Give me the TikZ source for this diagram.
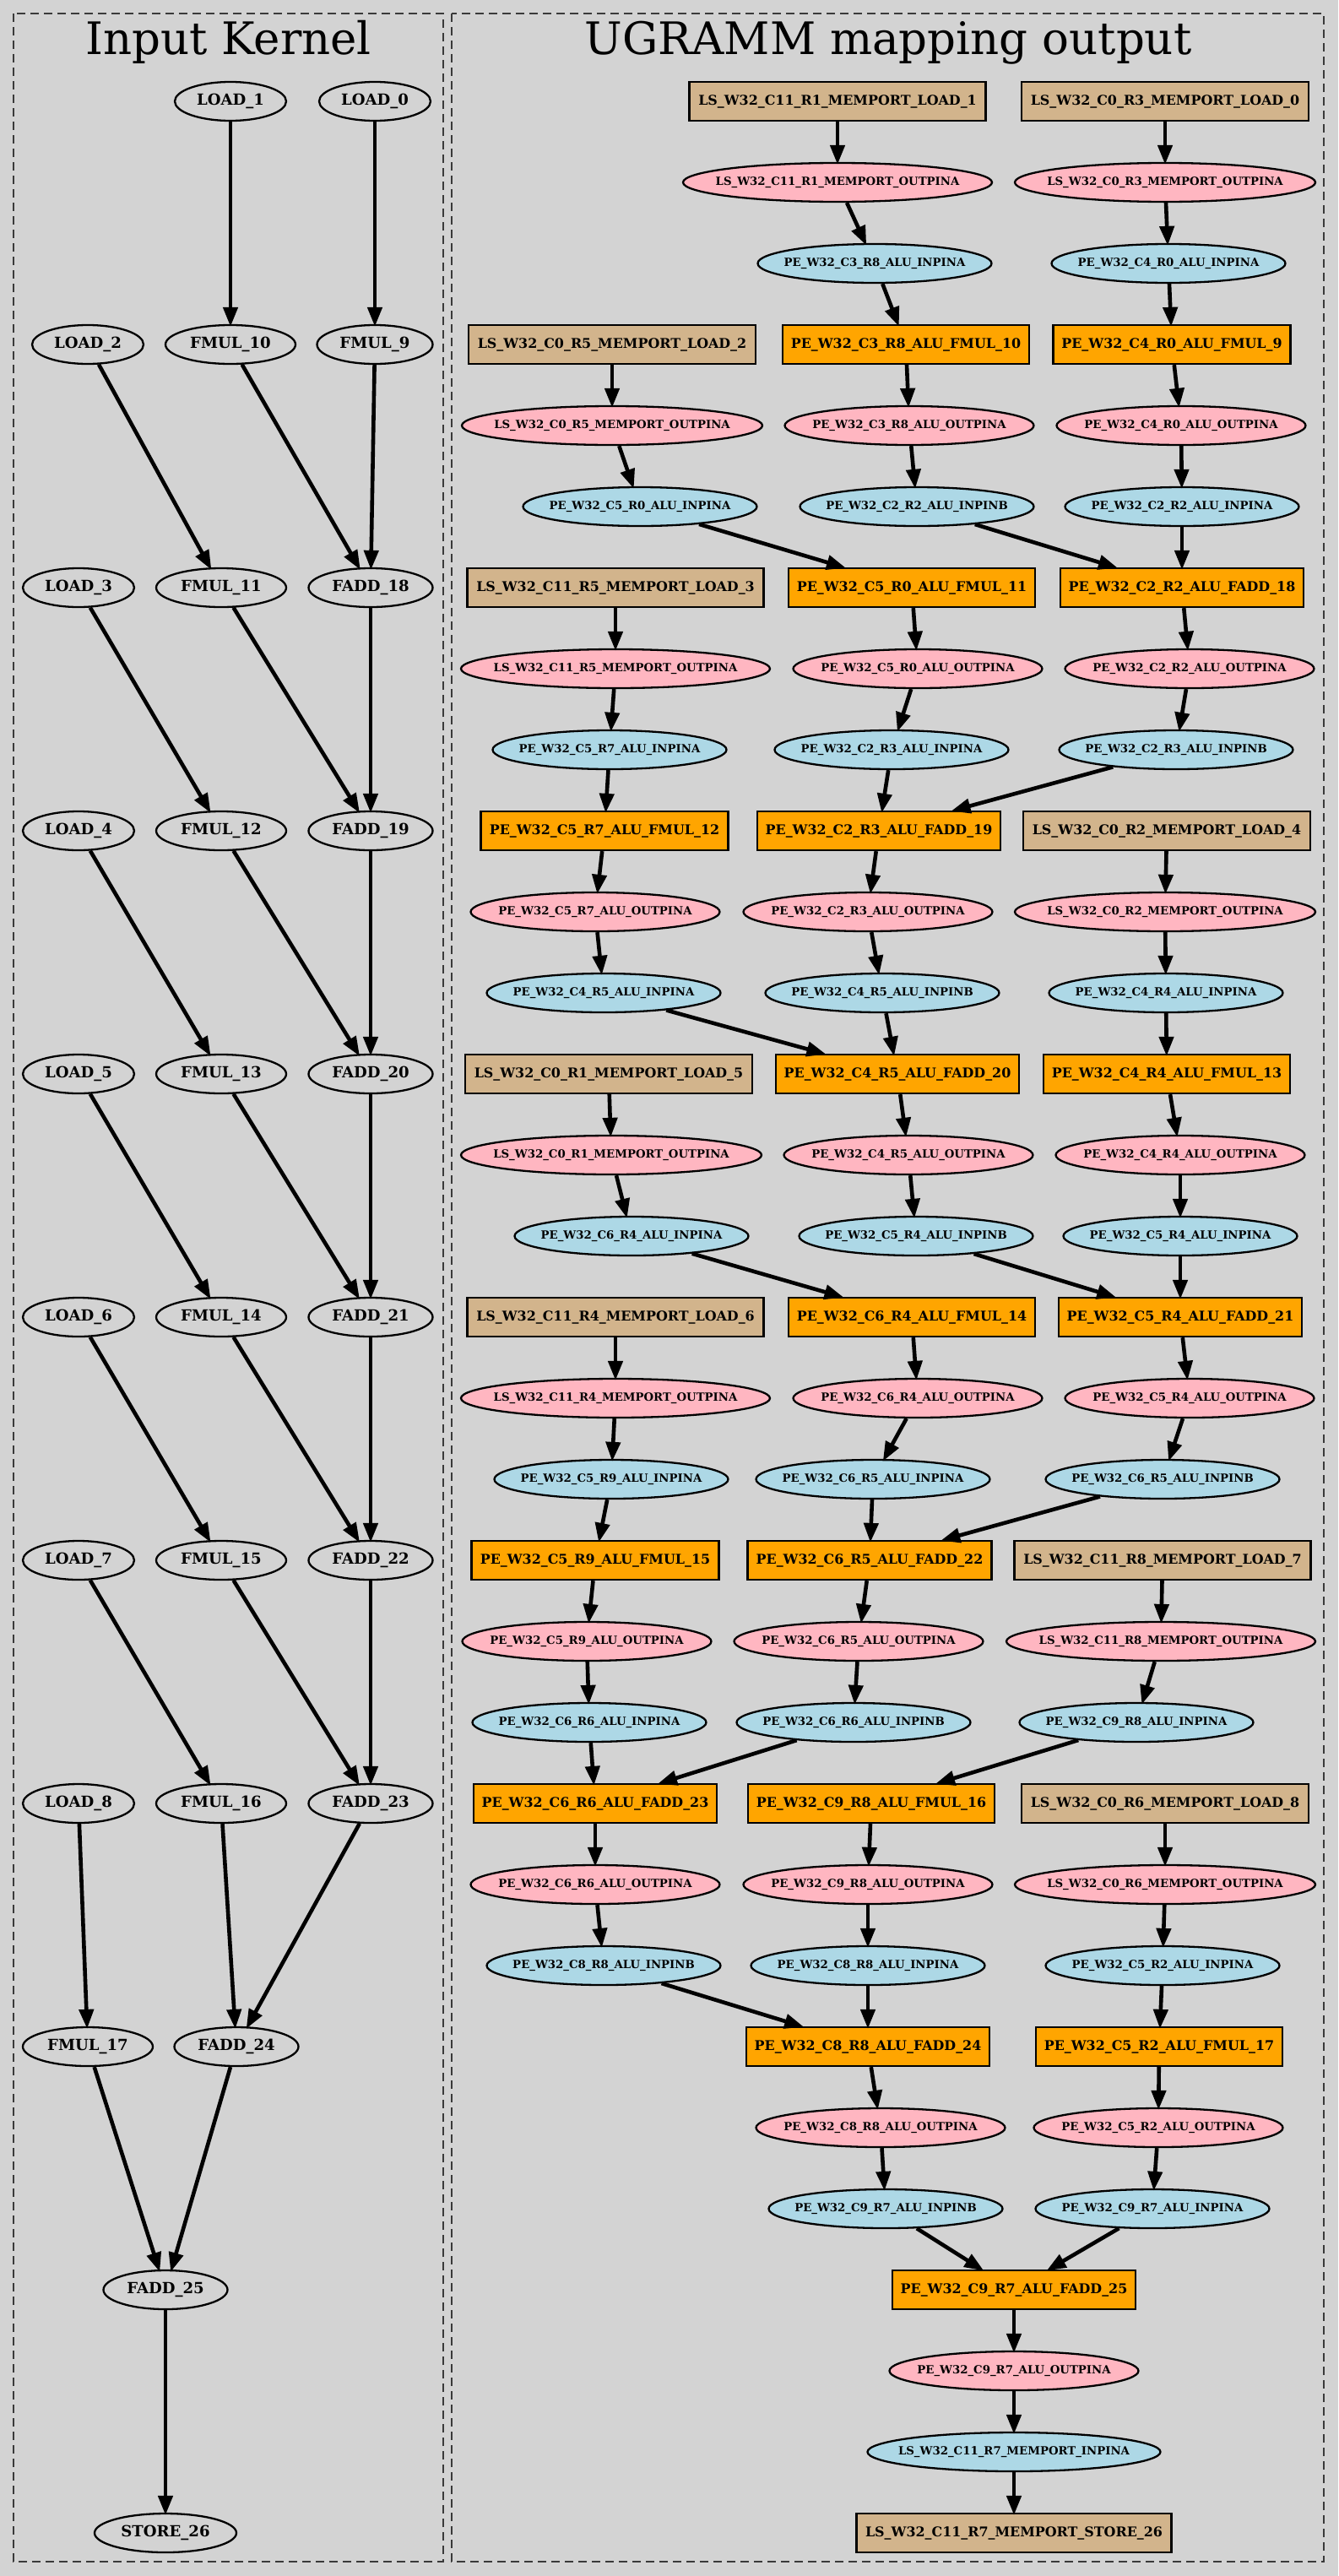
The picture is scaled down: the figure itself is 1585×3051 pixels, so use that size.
\documentclass[tikz,border=0pt]{standalone}
\usepackage{fontspec}
\setmainfont{DejaVu Serif}
\usetikzlibrary{arrows.meta,shapes.geometric}
\definecolor{bgc}{HTML}{D3D3D3}
\definecolor{tanc}{HTML}{D2B48C}
\definecolor{orc}{HTML}{FFA500}
\definecolor{pinkc}{HTML}{FFB6C1}
\definecolor{bluec}{HTML}{ADD8E6}
\definecolor{clc}{HTML}{3A3A3A}
\newcommand\zw[1]{\makebox[0pt]{#1}}
\begin{document}
\begin{tikzpicture}[x=1pt,y=-1pt,
  base/.style={draw=black, line width=2.3pt, inner sep=0pt, minimum height=46pt},
  kn/.style={base, ellipse, fill=bgc, minimum width=#1, font=\bfseries\fontsize{18.1}{20}\selectfont},
  tanbox/.style={base, rectangle, fill=tanc, minimum width=#1, font=\bfseries\fontsize{15.9}{18}\selectfont},
  orbox/.style={base, rectangle, fill=orc, minimum width=#1, font=\bfseries\fontsize{15.9}{18}\selectfont},
  pinkel/.style={base, ellipse, fill=pinkc, minimum width=#1, font=\bfseries\fontsize{13.3}{15}\selectfont},
  blueel/.style={base, ellipse, fill=bluec, minimum width=#1, font=\bfseries\fontsize{13.3}{15}\selectfont},
  edge/.style={draw=black, line width=4.6pt, shorten >=-3pt, -{Triangle[length=23pt 0, width=17pt 0]}},
  cluster/.style={draw=clc, line width=1.2pt, dash pattern=on 10pt off 6pt},
  ttl/.style={font=\fontsize{53}{60}\selectfont, anchor=base, inner sep=0pt}
]
\useasboundingbox (0,0) rectangle (1585,3051);
\fill[bgc] (0,0) rectangle (1585,3051);
\draw[cluster] (16,16) rectangle (525,3034);
\draw[cluster] (535,16) rectangle (1568,3034);
\node[ttl] (t1) at (270.5,65) {Input Kernel};
\node[ttl] (t2) at (1052,65) {UGRAMM mapping output};

% ---------------- Input kernel ----------------
\node[kn=132] (kl1) at (273,120) {\zw{LOAD\_1}};
\node[kn=132] (kl0) at (444,120) {\zw{LOAD\_0}};
\node[kn=132] (kl2) at (104,408) {\zw{LOAD\_2}};
\node[kn=154] (km10) at (273,408) {\zw{FMUL\_10}};
\node[kn=137] (km9) at (444,408) {\zw{FMUL\_9}};
\foreach \i/\m/\a/\y in {3/11/18/696,4/12/19/984,5/13/20/1272,6/14/21/1560,7/15/22/1848,8/16/23/2136}{
  \node[kn=132] (kl\i) at (93,\y) {\zw{LOAD\_\i}};
  \node[kn=154] (km\m) at (262,\y) {\zw{FMUL\_\m}};
  \node[kn=147] (ka\a) at (439,\y) {\zw{FADD\_\a}};
}
\node[kn=154] (km17) at (104,2424) {\zw{FMUL\_17}};
\node[kn=147] (ka24) at (280,2424) {\zw{FADD\_24}};
\node[kn=147] (ka25) at (196,2712) {\zw{FADD\_25}};
\node[kn=168] (ks26) at (196,3000) {\zw{STORE\_26}};

\draw[edge] (kl1) -- (km10);
\draw[edge] (kl0) -- (km9);
\draw[edge] (kl2) -- (km11);
\draw[edge] (km10) -- (ka18);
\draw[edge] (km9) -- (ka18);
\foreach \l/\m/\n/\a/\b in {3/12/11/18/19,4/13/12/19/20,5/14/13/20/21,6/15/14/21/22,7/16/15/22/23}{
  \draw[edge] (kl\l) -- (km\m);
  \draw[edge] (km\n) -- (ka\b);
  \draw[edge] (ka\a) -- (ka\b);
}
\draw[edge] (kl8) -- (km17);
\draw[edge] (km16) -- (ka24);
\draw[edge] (ka23) -- (ka24);
\draw[edge] (km17) -- (ka25);
\draw[edge] (ka24) -- (ka25);
\draw[edge] (ka25) -- (ks26);

% ---------------- UGRAMM mapping ----------------
\node[tanbox=351] (r0b) at (992,120) {\zw{LS\_W32\_C11\_R1\_MEMPORT\_LOAD\_1}};
\node[tanbox=340] (r0c) at (1380,120) {\zw{LS\_W32\_C0\_R3\_MEMPORT\_LOAD\_0}};
\node[pinkel=366] (r1b) at (992,216) {\zw{LS\_W32\_C11\_R1\_MEMPORT\_OUTPINA}};
\node[pinkel=356] (r1c) at (1380,216) {\zw{LS\_W32\_C0\_R3\_MEMPORT\_OUTPINA}};
\node[blueel=277] (r2b) at (1036,312) {\zw{PE\_W32\_C3\_R8\_ALU\_INPINA}};
\node[blueel=277] (r2c) at (1384,312) {\zw{PE\_W32\_C4\_R0\_ALU\_INPINA}};

\node[tanbox=340] (r3a) at (725,408) {\zw{LS\_W32\_C0\_R5\_MEMPORT\_LOAD\_2}};
\node[orbox=292] (r3b) at (1073,408) {\zw{PE\_W32\_C3\_R8\_ALU\_FMUL\_10}};
\node[orbox=281] (r3c) at (1388,408) {\zw{PE\_W32\_C4\_R0\_ALU\_FMUL\_9}};
\node[pinkel=356] (r4a) at (725,504) {\zw{LS\_W32\_C0\_R5\_MEMPORT\_OUTPINA}};
\node[pinkel=295] (r4b) at (1077,504) {\zw{PE\_W32\_C3\_R8\_ALU\_OUTPINA}};
\node[pinkel=295] (r4c) at (1399,504) {\zw{PE\_W32\_C4\_R0\_ALU\_OUTPINA}};
\node[blueel=277] (r5a) at (758,600) {\zw{PE\_W32\_C5\_R0\_ALU\_INPINA}};
\node[blueel=277] (r5b) at (1086,600) {\zw{PE\_W32\_C2\_R2\_ALU\_INPINB}};
\node[blueel=277] (r5c) at (1400,600) {\zw{PE\_W32\_C2\_R2\_ALU\_INPINA}};

\node[tanbox=351] (r6a) at (729,696) {\zw{LS\_W32\_C11\_R5\_MEMPORT\_LOAD\_3}};
\node[orbox=292] (r6b) at (1080,696) {\zw{PE\_W32\_C5\_R0\_ALU\_FMUL\_11}};
\node[orbox=288] (r6c) at (1400,696) {\zw{PE\_W32\_C2\_R2\_ALU\_FADD\_18}};
\node[pinkel=366] (r7a) at (729,792) {\zw{LS\_W32\_C11\_R5\_MEMPORT\_OUTPINA}};
\node[pinkel=295] (r7b) at (1087,792) {\zw{PE\_W32\_C5\_R0\_ALU\_OUTPINA}};
\node[pinkel=295] (r7c) at (1409,792) {\zw{PE\_W32\_C2\_R2\_ALU\_OUTPINA}};
\node[blueel=277] (r8a) at (722,888) {\zw{PE\_W32\_C5\_R7\_ALU\_INPINA}};
\node[blueel=277] (r8b) at (1056,888) {\zw{PE\_W32\_C2\_R3\_ALU\_INPINA}};
\node[blueel=277] (r8c) at (1393,888) {\zw{PE\_W32\_C2\_R3\_ALU\_INPINB}};

\node[orbox=293] (r9a) at (716,984) {\zw{PE\_W32\_C5\_R7\_ALU\_FMUL\_12}};
\node[orbox=288] (r9b) at (1041,984) {\zw{PE\_W32\_C2\_R3\_ALU\_FADD\_19}};
\node[tanbox=340] (r9c) at (1382,984) {\zw{LS\_W32\_C0\_R2\_MEMPORT\_LOAD\_4}};
\node[pinkel=295] (r10a) at (705,1080) {\zw{PE\_W32\_C5\_R7\_ALU\_OUTPINA}};
\node[pinkel=295] (r10b) at (1028,1080) {\zw{PE\_W32\_C2\_R3\_ALU\_OUTPINA}};
\node[pinkel=356] (r10c) at (1380,1080) {\zw{LS\_W32\_C0\_R2\_MEMPORT\_OUTPINA}};
\node[blueel=277] (r11a) at (715,1176) {\zw{PE\_W32\_C4\_R5\_ALU\_INPINA}};
\node[blueel=277] (r11b) at (1045,1176) {\zw{PE\_W32\_C4\_R5\_ALU\_INPINB}};
\node[blueel=277] (r11c) at (1381,1176) {\zw{PE\_W32\_C4\_R4\_ALU\_INPINA}};

\node[tanbox=340] (r12a) at (721,1272) {\zw{LS\_W32\_C0\_R1\_MEMPORT\_LOAD\_5}};
\node[orbox=288] (r12b) at (1063,1272) {\zw{PE\_W32\_C4\_R5\_ALU\_FADD\_20}};
\node[orbox=292] (r12c) at (1382,1272) {\zw{PE\_W32\_C4\_R4\_ALU\_FMUL\_13}};
\node[pinkel=356] (r13a) at (724,1368) {\zw{LS\_W32\_C0\_R1\_MEMPORT\_OUTPINA}};
\node[pinkel=295] (r13b) at (1076,1368) {\zw{PE\_W32\_C4\_R5\_ALU\_OUTPINA}};
\node[pinkel=295] (r13c) at (1398,1368) {\zw{PE\_W32\_C4\_R4\_ALU\_OUTPINA}};
\node[blueel=277] (r14a) at (748,1464) {\zw{PE\_W32\_C6\_R4\_ALU\_INPINA}};
\node[blueel=277] (r14b) at (1085,1464) {\zw{PE\_W32\_C5\_R4\_ALU\_INPINB}};
\node[blueel=277] (r14c) at (1398,1464) {\zw{PE\_W32\_C5\_R4\_ALU\_INPINA}};

\node[tanbox=351] (r15a) at (729,1560) {\zw{LS\_W32\_C11\_R4\_MEMPORT\_LOAD\_6}};
\node[orbox=292] (r15b) at (1080,1560) {\zw{PE\_W32\_C6\_R4\_ALU\_FMUL\_14}};
\node[orbox=288] (r15c) at (1398,1560) {\zw{PE\_W32\_C5\_R4\_ALU\_FADD\_21}};
\node[pinkel=366] (r16a) at (729,1656) {\zw{LS\_W32\_C11\_R4\_MEMPORT\_OUTPINA}};
\node[pinkel=295] (r16b) at (1087,1656) {\zw{PE\_W32\_C6\_R4\_ALU\_OUTPINA}};
\node[pinkel=295] (r16c) at (1409,1656) {\zw{PE\_W32\_C5\_R4\_ALU\_OUTPINA}};
\node[blueel=277] (r17a) at (724,1752) {\zw{PE\_W32\_C5\_R9\_ALU\_INPINA}};
\node[blueel=277] (r17b) at (1034,1752) {\zw{PE\_W32\_C6\_R5\_ALU\_INPINA}};
\node[blueel=277] (r17c) at (1377,1752) {\zw{PE\_W32\_C6\_R5\_ALU\_INPINB}};

\node[orbox=293] (r18a) at (705,1848) {\zw{PE\_W32\_C5\_R9\_ALU\_FMUL\_15}};
\node[orbox=289] (r18b) at (1030,1848) {\zw{PE\_W32\_C6\_R5\_ALU\_FADD\_22}};
\node[tanbox=351] (r18c) at (1377,1848) {\zw{LS\_W32\_C11\_R8\_MEMPORT\_LOAD\_7}};
\node[pinkel=295] (r19a) at (695,1944) {\zw{PE\_W32\_C5\_R9\_ALU\_OUTPINA}};
\node[pinkel=295] (r19b) at (1017,1944) {\zw{PE\_W32\_C6\_R5\_ALU\_OUTPINA}};
\node[pinkel=366] (r19c) at (1375,1944) {\zw{LS\_W32\_C11\_R8\_MEMPORT\_OUTPINA}};
\node[blueel=277] (r20a) at (698,2040) {\zw{PE\_W32\_C6\_R6\_ALU\_INPINA}};
\node[blueel=277] (r20b) at (1011,2040) {\zw{PE\_W32\_C6\_R6\_ALU\_INPINB}};
\node[blueel=277] (r20c) at (1346,2040) {\zw{PE\_W32\_C9\_R8\_ALU\_INPINA}};

\node[orbox=288] (r21a) at (705,2136) {\zw{PE\_W32\_C6\_R6\_ALU\_FADD\_23}};
\node[orbox=292] (r21b) at (1032,2136) {\zw{PE\_W32\_C9\_R8\_ALU\_FMUL\_16}};
\node[tanbox=340] (r21c) at (1380,2136) {\zw{LS\_W32\_C0\_R6\_MEMPORT\_LOAD\_8}};
\node[pinkel=295] (r22a) at (705,2232) {\zw{PE\_W32\_C6\_R6\_ALU\_OUTPINA}};
\node[pinkel=295] (r22b) at (1028,2232) {\zw{PE\_W32\_C9\_R8\_ALU\_OUTPINA}};
\node[pinkel=356] (r22c) at (1380,2232) {\zw{LS\_W32\_C0\_R6\_MEMPORT\_OUTPINA}};
\node[blueel=277] (r23a) at (715,2328) {\zw{PE\_W32\_C8\_R8\_ALU\_INPINB}};
\node[blueel=277] (r23b) at (1028,2328) {\zw{PE\_W32\_C8\_R8\_ALU\_INPINA}};
\node[blueel=277] (r23c) at (1377,2328) {\zw{PE\_W32\_C5\_R2\_ALU\_INPINA}};

\node[orbox=288] (r24b) at (1028,2424) {\zw{PE\_W32\_C8\_R8\_ALU\_FADD\_24}};
\node[orbox=292] (r24c) at (1373,2424) {\zw{PE\_W32\_C5\_R2\_ALU\_FMUL\_17}};
\node[pinkel=295] (r25b) at (1043,2520) {\zw{PE\_W32\_C8\_R8\_ALU\_OUTPINA}};
\node[pinkel=295] (r25c) at (1372,2520) {\zw{PE\_W32\_C5\_R2\_ALU\_OUTPINA}};
\node[blueel=277] (r26b) at (1049,2616) {\zw{PE\_W32\_C9\_R7\_ALU\_INPINB}};
\node[blueel=277] (r26c) at (1365,2616) {\zw{PE\_W32\_C9\_R7\_ALU\_INPINA}};
\node[orbox=288] (r27d) at (1201,2712) {\zw{PE\_W32\_C9\_R7\_ALU\_FADD\_25}};
\node[pinkel=295] (r28d) at (1201,2808) {\zw{PE\_W32\_C9\_R7\_ALU\_OUTPINA}};
\node[blueel=347] (r29d) at (1201,2904) {\zw{LS\_W32\_C11\_R7\_MEMPORT\_INPINA}};
\node[tanbox=373] (r30d) at (1201,3000) {\zw{LS\_W32\_C11\_R7\_MEMPORT\_STORE\_26}};

% edges
\draw[edge] (r0b) -- (r1b); \draw[edge] (r1b) -- (r2b); \draw[edge] (r2b) -- (r3b);
\draw[edge] (r3b) -- (r4b); \draw[edge] (r4b) -- (r5b); \draw[edge] (r5b) -- (r6c);
\draw[edge] (r0c) -- (r1c); \draw[edge] (r1c) -- (r2c); \draw[edge] (r2c) -- (r3c);
\draw[edge] (r3c) -- (r4c); \draw[edge] (r4c) -- (r5c); \draw[edge] (r5c) -- (r6c);
\draw[edge] (r3a) -- (r4a); \draw[edge] (r4a) -- (r5a); \draw[edge] (r5a) -- (r6b);
\draw[edge] (r6b) -- (r7b); \draw[edge] (r7b) -- (r8b); \draw[edge] (r8b) -- (r9b);
\draw[edge] (r6c) -- (r7c); \draw[edge] (r7c) -- (r8c); \draw[edge] (r8c) -- (r9b);
\draw[edge] (r6a) -- (r7a); \draw[edge] (r7a) -- (r8a); \draw[edge] (r8a) -- (r9a);
\draw[edge] (r9a) -- (r10a); \draw[edge] (r10a) -- (r11a); \draw[edge] (r11a) -- (r12b);
\draw[edge] (r9b) -- (r10b); \draw[edge] (r10b) -- (r11b); \draw[edge] (r11b) -- (r12b);
\draw[edge] (r9c) -- (r10c); \draw[edge] (r10c) -- (r11c); \draw[edge] (r11c) -- (r12c);
\draw[edge] (r12c) -- (r13c); \draw[edge] (r13c) -- (r14c); \draw[edge] (r14c) -- (r15c);
\draw[edge] (r12a) -- (r13a); \draw[edge] (r13a) -- (r14a); \draw[edge] (r14a) -- (r15b);
\draw[edge] (r15b) -- (r16b); \draw[edge] (r16b) -- (r17b); \draw[edge] (r17b) -- (r18b);
\draw[edge] (r12b) -- (r13b); \draw[edge] (r13b) -- (r14b); \draw[edge] (r14b) -- (r15c);
\draw[edge] (r15c) -- (r16c); \draw[edge] (r16c) -- (r17c); \draw[edge] (r17c) -- (r18b);
\draw[edge] (r15a) -- (r16a); \draw[edge] (r16a) -- (r17a); \draw[edge] (r17a) -- (r18a);
\draw[edge] (r18a) -- (r19a); \draw[edge] (r19a) -- (r20a); \draw[edge] (r20a) -- (r21a);
\draw[edge] (r18b) -- (r19b); \draw[edge] (r19b) -- (r20b); \draw[edge] (r20b) -- (r21a);
\draw[edge] (r18c) -- (r19c); \draw[edge] (r19c) -- (r20c); \draw[edge] (r20c) -- (r21b);
\draw[edge] (r21b) -- (r22b); \draw[edge] (r22b) -- (r23b); \draw[edge] (r23b) -- (r24b);
\draw[edge] (r21a) -- (r22a); \draw[edge] (r22a) -- (r23a); \draw[edge] (r23a) -- (r24b);
\draw[edge] (r21c) -- (r22c); \draw[edge] (r22c) -- (r23c); \draw[edge] (r23c) -- (r24c);
\draw[edge] (r24c) -- (r25c); \draw[edge] (r25c) -- (r26c); \draw[edge] (r26c) -- (r27d);
\draw[edge] (r24b) -- (r25b); \draw[edge] (r25b) -- (r26b); \draw[edge] (r26b) -- (r27d);
\draw[edge] (r27d) -- (r28d); \draw[edge] (r28d) -- (r29d); \draw[edge] (r29d) -- (r30d);
\end{tikzpicture}
\end{document}
